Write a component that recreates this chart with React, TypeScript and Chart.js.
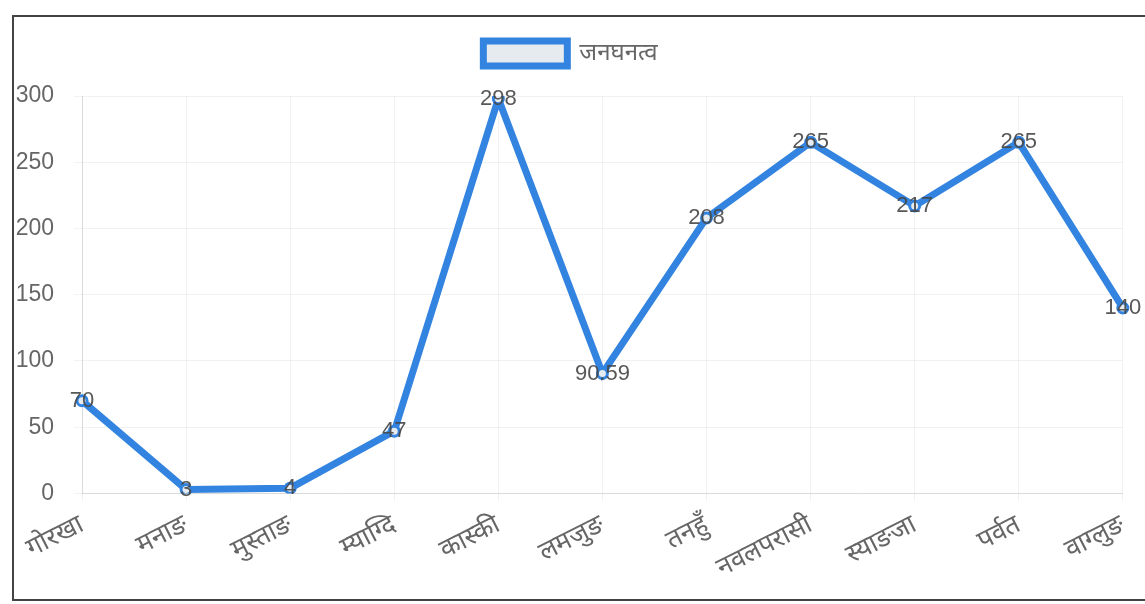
import React, { useEffect, useRef } from "react";
import { Chart, registerables } from "chart.js";

Chart.register(...registerables);

const categories = ["गोरखा", "मनाङ", "मुस्ताङ", "म्याग्दि", "कास्की", "लमजुङ", "तनहुँ", "नवलपरासी", "स्याङजा", "पर्वत", "वाग्लुङ"];
const density = [70, 3, 4, 47, 298, 90.59, 208, 265, 217, 265, 140];
const seriesName = "जनघनत्व";
const yTicks = [0, 50, 100, 150, 200, 250, 300];

const FONT = "'Liberation Sans', Arial, 'Noto Sans', sans-serif";

const valueLabels = {
  id: "valueLabels",
  afterDatasetsDraw(chart: any) {
    const ctx = chart.ctx;
    const meta = chart.getDatasetMeta(0);
    ctx.save();
    ctx.font = `22px ${FONT}`;
    ctx.fillStyle = "rgba(70,70,70,0.9)";
    ctx.textAlign = "center";
    ctx.textBaseline = "middle";
    meta.data.forEach((pt: any, i: number) => {
      ctx.fillText(String(chart.data.datasets[0].data[i]), pt.x, pt.y);
    });
    ctx.restore();
  },
};

const legendGap = {
  id: "legendGap",
  beforeUpdate(chart: any) {
    const lg = chart.legend;
    if (lg && !lg._gapPatched) {
      const orig = lg.fit;
      lg.fit = function () {
        orig.call(this);
        this.height += 20;
      };
      lg._gapPatched = true;
    }
  },
};

export default function App() {
  const ref = useRef<HTMLCanvasElement>(null);
  useEffect(() => {
    if (!ref.current) return;
    const chart = new Chart(ref.current, {
      type: "line",
      data: {
        labels: categories,
        datasets: [
          {
            label: seriesName,
            data: density,
            borderColor: "#3384e0",
            backgroundColor: "#e6ebef",
            borderWidth: 7,
            pointRadius: 5,
            pointBorderWidth: 3,
            pointBackgroundColor: "#e6ebef",
            pointBorderColor: "#3384e0",
            tension: 0,
            fill: false,
          },
        ],
      },
      options: {
        animation: false,
        responsive: true,
        maintainAspectRatio: false,
        layout: { padding: { left: 0, right: 18, top: 0, bottom: 6 } },
        plugins: {
          legend: {
            display: true,
            labels: {
              boxWidth: 84,
              boxHeight: 25,
              font: { size: 24, family: FONT },
              color: "#666",
              padding: 24,
            },
          },
          tooltip: { enabled: false },
        },
        scales: {
          x: {
            offset: false,
            grid: { color: "rgba(0,0,0,0.05)" },
            ticks: {
              font: { size: 26, family: FONT },
              color: "#666",
              minRotation: 27,
              maxRotation: 27,
              autoSkip: false,
              padding: 8,
            },
          },
          y: {
            min: 0,
            max: 300,
            grid: { color: "rgba(0,0,0,0.05)" },
            afterBuildTicks: (axis: any) => {
              axis.ticks = yTicks.map((v) => ({ value: v }));
            },
            afterFit: (axis: any) => {
              axis.width = 68;
            },
            ticks: {
              font: { size: 23, family: FONT },
              color: "#666",
              padding: 20,
            },
          },
        },
      },
      plugins: [valueLabels, legendGap],
    });
    return () => chart.destroy();
  }, []);
  return (
    <div
      style={{
        position: "absolute",
        left: 12,
        top: 15,
        width: 1140,
        height: 582,
        borderLeft: "2px solid #444",
        borderTop: "2px solid #444",
        borderBottom: "2px solid #444",
        background: "#fff",
        overflow: "hidden",
      }}
    >
      <div style={{ position: "relative", width: 1131, height: 581 }}>
        <canvas ref={ref} />
      </div>
    </div>
  );
}
